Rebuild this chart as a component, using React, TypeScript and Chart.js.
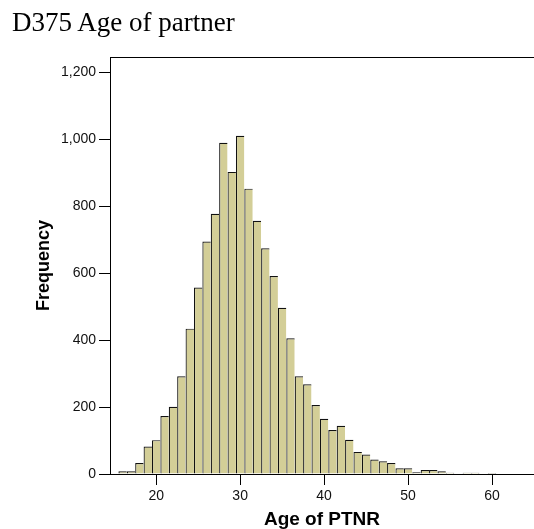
import React, { useEffect, useRef } from "react";
import { Chart, registerables } from "chart.js";

Chart.register(...registerables);

const chartTitle = "D375 Age of partner";
const xAxisTitle = "Age of PTNR";
const yAxisTitle = "Frequency";

const ages = [16, 17, 18, 19, 20, 21, 22, 23, 24, 25, 26, 27, 28, 29, 30, 31, 32, 33, 34, 35, 36, 37, 38, 39, 40, 41, 42, 43, 44, 45, 46, 47, 48, 49, 50, 51, 52, 53, 54, 55, 57, 58, 60];
const counts = [8, 8, 33, 82, 101, 173, 201, 292, 434, 557, 694, 777, 989, 902, 1010, 852, 756, 674, 591, 496, 405, 292, 268, 206, 165, 131, 144, 102, 66, 58, 43, 38, 33, 17, 17, 5, 12, 12, 8, 4, 4, 4, 3];

const xTicks = [20, 30, 40, 50, 60];
const yTicks = [0, 200, 400, 600, 800, 1000, 1200];

const frameLines = {
  id: "frameLines",
  afterDraw(chart: any) {
    const { ctx, chartArea } = chart;
    ctx.save();
    ctx.strokeStyle = "#000";
    ctx.lineWidth = 1;
    ctx.beginPath();
    const y = Math.round(chartArea.top) + 0.5;
    ctx.moveTo(Math.round(chartArea.left), y);
    ctx.lineTo(chartArea.right, y);
    ctx.stroke();
    ctx.restore();
  },
};

export default function App() {
  const ref = useRef<HTMLCanvasElement | null>(null);

  useEffect(() => {
    if (!ref.current) return;
    const points = ages.map((a, i) => ({ x: a, y: counts[i] }));
    const ageSet = new Set(ages);
    const chart = new Chart(ref.current, {
      type: "bar",
      data: {
        datasets: [
          {
            data: points as any,
            backgroundColor: "#D3CE97",
            borderColor: "#111",
            borderWidth: ((c: any) => {
              const a = ages[c.dataIndex];
              return { top: 1.2, left: 1.2, right: ageSet.has(a + 1) ? 0 : 1.2, bottom: 0 };
            }) as any,
            borderSkipped: false,
            barPercentage: 1,
            categoryPercentage: 1,
            inflateAmount: 0,
          },
        ],
      },
      options: {
        animation: false,
        responsive: false,
        maintainAspectRatio: false,
        layout: { padding: { top: 57, left: 0, right: 0, bottom: 0 } },
        plugins: {
          legend: { display: false },
          tooltip: { enabled: false },
          title: { display: false },
        },
        scales: {
          x: {
            type: "linear",
            min: 14.5,
            max: 65,
            offset: false,
            afterFit: (s: any) => {
              s.height = 55;
            },
            afterBuildTicks: (s: any) => {
              s.ticks = xTicks.map((v) => ({ value: v }));
            },
            grid: {
              display: true,
              drawOnChartArea: false,
              drawTicks: true,
              tickLength: 11,
              color: "#000",
              offset: false,
            },
            border: { display: true, color: "#000", width: 1 },
            ticks: {
              color: "#111",
              padding: 3,
              font: { family: "'Liberation Sans', Arial, sans-serif", size: 14 },
              callback: (v: any) => String(v),
            },
            title: {
              display: true,
              text: xAxisTitle,
              color: "#000",
              font: { family: "'Liberation Sans', Arial, sans-serif", size: 19, weight: "bold", lineHeight: 1 },
              padding: { top: 0, bottom: 0 },
            },
          },
          y: {
            type: "linear",
            min: 0,
            max: 1245,
            afterFit: (s: any) => {
              s.width = 110;
            },
            afterBuildTicks: (s: any) => {
              s.ticks = yTicks.map((v) => ({ value: v }));
            },
            grid: {
              display: true,
              drawOnChartArea: false,
              drawTicks: true,
              tickLength: 11,
              color: "#000",
            },
            border: { display: true, color: "#000", width: 1 },
            ticks: {
              color: "#111",
              padding: 3,
              font: { family: "'Liberation Sans', Arial, sans-serif", size: 14 },
              callback: (v: any) => Number(v).toLocaleString("en-US"),
            },
            title: {
              display: true,
              text: yAxisTitle,
              color: "#000",
              font: { family: "'Liberation Sans', Arial, sans-serif", size: 18, weight: "bold", lineHeight: 1.2 },
              padding: { top: 33.5, bottom: 0 },
            },
          },
        },
      },
      plugins: [frameLines],
    });
    return () => chart.destroy();
  }, []);

  return (
    <div style={{ position: "fixed", left: 0, top: 0, width: 534, height: 529, background: "#fff" }}>
      <div
        style={{
          position: "absolute",
          left: 12,
          top: 9,
          fontFamily: "'Liberation Serif', 'Times New Roman', serif",
          fontSize: 27,
          lineHeight: "27px",
          color: "#000",
          whiteSpace: "nowrap",
        }}
      >
        {chartTitle}
      </div>
      <canvas ref={ref} width={534} height={529} style={{ display: "block", width: 534, height: 529 }} />
    </div>
  );
}
